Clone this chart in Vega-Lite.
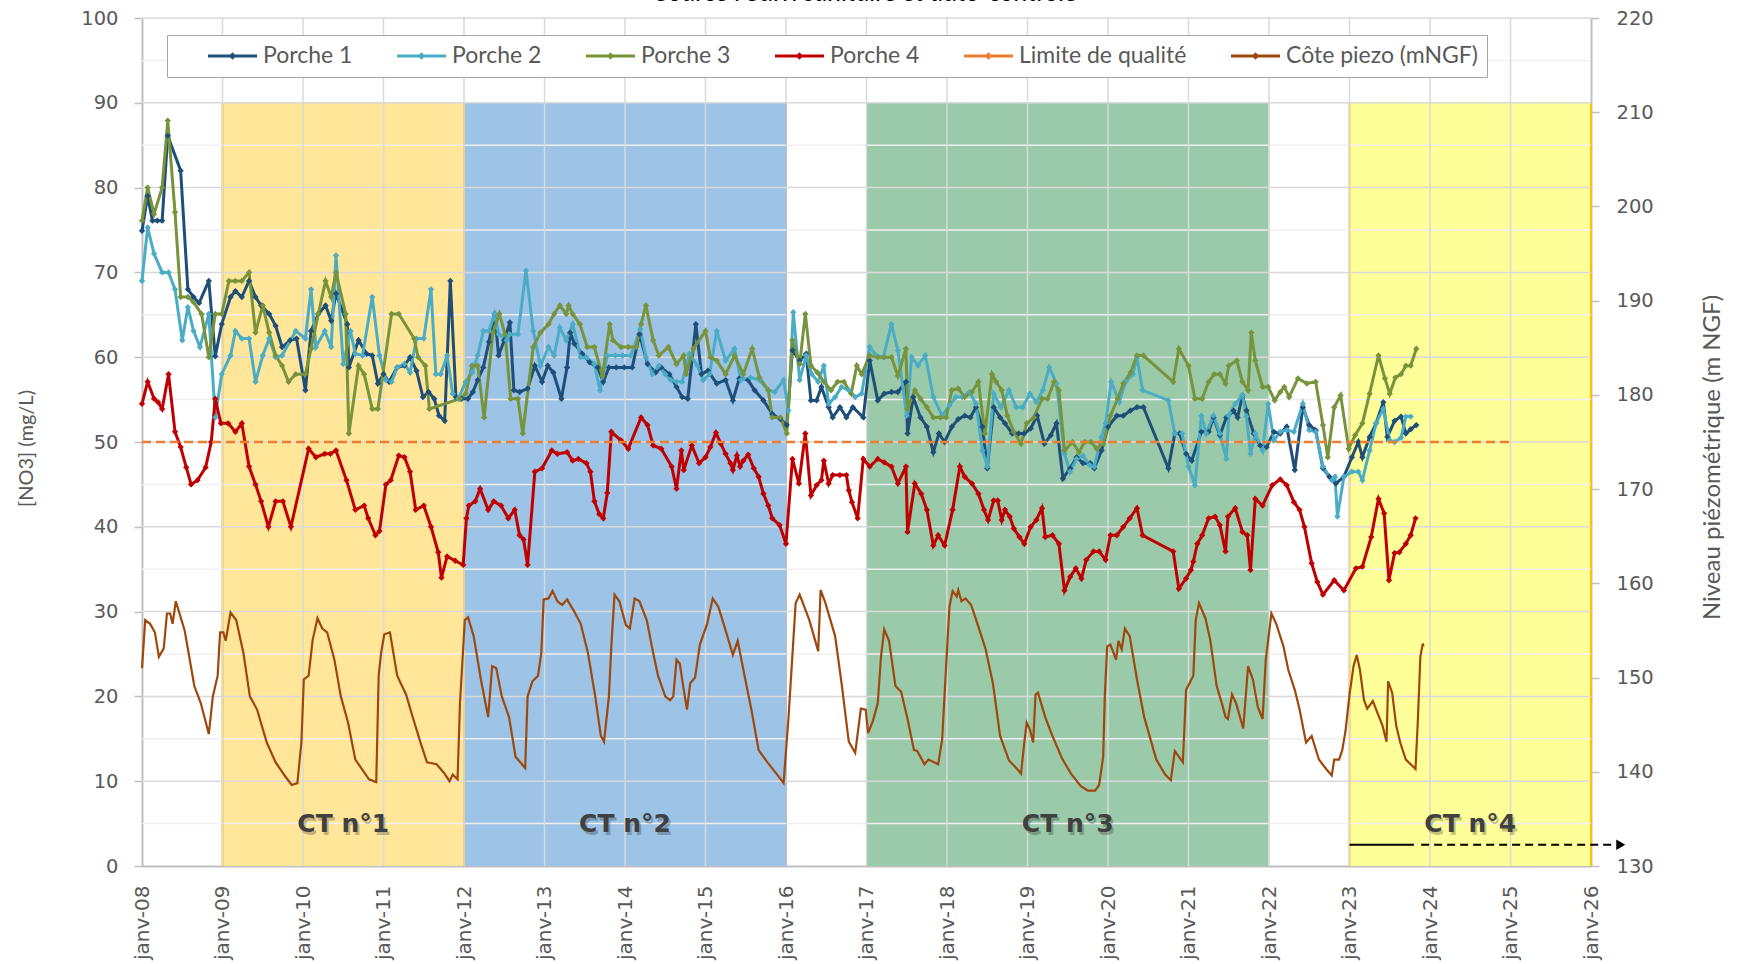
{
"$schema":"https://vega.github.io/schema/vega-lite/v6.json",
"width":1449,"height":848,
"autosize":{"type":"none"},
"padding":{"left":142,"top":18,"right":150,"bottom":98},
"background":"#ffffff",
"title":{"text":"Source : Suivi sanitaire et auto-contrôle","font":"Lato","fontSize":26,"fontStyle":"italic","fontWeight":"normal","color":"#000000","anchor":"middle","baseline":"alphabetic","offset":-19},
"config":{"view":{"stroke":null},"axis":{"labelFont":"DejaVu Sans","labelFontSize":19.5,"labelColor":"#595959","domainColor":"#BFBFBF","domainWidth":2,"tickColor":"#BFBFBF","tickWidth":1.5,"grid":false,"titleFont":"Lato","titleFontSize":20,"titleColor":"#595959","titleFontWeight":"normal"}},
"datasets":{
"ct":[{"nom":"CT n°1","an":2009,"fin":2012,"mil":2010.5},{"nom":"CT n°2","an":2012,"fin":2016,"mil":2014},{"nom":"CT n°3","an":2017,"fin":2022,"mil":2019.5},{"nom":"CT n°4","an":2023,"fin":2026,"mil":2024.5}],
"bords":[{"nom":"CT n°1","an":2009},{"nom":"CT n°1","an":2012},{"nom":"CT n°2","an":2016},{"nom":"CT n°4","an":2023},{"nom":"CT n°4","an":2026}],
"g10":[{"v":10},{"v":20},{"v":30},{"v":40},{"v":50},{"v":60},{"v":70},{"v":80},{"v":90},{"v":100}],
"g5":[{"v":5},{"v":15},{"v":25},{"v":35},{"v":45},{"v":55},{"v":65},{"v":75},{"v":85},{"v":95}],
"gx":[{"an":2009},{"an":2010},{"an":2011},{"an":2012},{"an":2013},{"an":2014},{"an":2015},{"an":2016},{"an":2017},{"an":2018},{"an":2019},{"an":2020},{"an":2021},{"an":2022},{"an":2023},{"an":2024},{"an":2025}],
"limite":[{"an":2008,"no3":50},{"an":2025,"no3":50}],
"fleche_plein":[{"an":2023.0,"no3":2.5},{"an":2023.8,"no3":2.5}],
"fleche_tiret":[{"an":2023.89,"no3":2.5},{"an":2026.3,"no3":2.5}],
"fleche_pointe":[{"an":2026.37,"no3":2.5}],
"nitrate":[
{"serie":"Porche 1","an":2008.00,"no3":74.9},{"serie":"Porche 1","an":2008.07,"no3":79.0},{"serie":"Porche 1","an":2008.13,"no3":76.1},{"serie":"Porche 1","an":2008.19,"no3":76.1},{"serie":"Porche 1","an":2008.25,"no3":76.1},{"serie":"Porche 1","an":2008.32,"no3":86.1},{"serie":"Porche 1","an":2008.48,"no3":82.0},{"serie":"Porche 1","an":2008.57,"no3":68.0},{"serie":"Porche 1","an":2008.64,"no3":67.1},{"serie":"Porche 1","an":2008.71,"no3":66.4},{"serie":"Porche 1","an":2008.83,"no3":69.0},{"serie":"Porche 1","an":2008.91,"no3":60.1},{"serie":"Porche 1","an":2008.99,"no3":63.9},
{"serie":"Porche 1","an":2009.10,"no3":67.1},{"serie":"Porche 1","an":2009.16,"no3":67.8},{"serie":"Porche 1","an":2009.24,"no3":67.1},{"serie":"Porche 1","an":2009.33,"no3":69.0},{"serie":"Porche 1","an":2009.41,"no3":67.1},{"serie":"Porche 1","an":2009.48,"no3":66.1},{"serie":"Porche 1","an":2009.58,"no3":65.1},{"serie":"Porche 1","an":2009.66,"no3":63.7},{"serie":"Porche 1","an":2009.74,"no3":61.2},{"serie":"Porche 1","an":2009.84,"no3":62.0},{"serie":"Porche 1","an":2009.92,"no3":62.2},
{"serie":"Porche 1","an":2010.03,"no3":56.1},{"serie":"Porche 1","an":2010.10,"no3":63.1},{"serie":"Porche 1","an":2010.19,"no3":65.1},{"serie":"Porche 1","an":2010.28,"no3":66.1},{"serie":"Porche 1","an":2010.35,"no3":64.3},{"serie":"Porche 1","an":2010.41,"no3":67.5},{"serie":"Porche 1","an":2010.55,"no3":63.9},{"serie":"Porche 1","an":2010.57,"no3":58.8},{"serie":"Porche 1","an":2010.69,"no3":62.0},{"serie":"Porche 1","an":2010.79,"no3":60.4},{"serie":"Porche 1","an":2010.86,"no3":60.2},{"serie":"Porche 1","an":2010.93,"no3":56.9},
{"serie":"Porche 1","an":2011.00,"no3":58.0},{"serie":"Porche 1","an":2011.07,"no3":57.1},{"serie":"Porche 1","an":2011.17,"no3":58.8},{"serie":"Porche 1","an":2011.26,"no3":59.0},{"serie":"Porche 1","an":2011.33,"no3":60.0},{"serie":"Porche 1","an":2011.41,"no3":58.4},{"serie":"Porche 1","an":2011.49,"no3":55.3},{"serie":"Porche 1","an":2011.56,"no3":55.9},{"serie":"Porche 1","an":2011.63,"no3":55.1},{"serie":"Porche 1","an":2011.69,"no3":53.1},{"serie":"Porche 1","an":2011.76,"no3":52.5},{"serie":"Porche 1","an":2011.83,"no3":69.0},{"serie":"Porche 1","an":2011.90,"no3":55.3},{"serie":"Porche 1","an":2011.97,"no3":55.1},
{"serie":"Porche 1","an":2012.05,"no3":55.1},{"serie":"Porche 1","an":2012.11,"no3":55.9},{"serie":"Porche 1","an":2012.17,"no3":57.3},{"serie":"Porche 1","an":2012.24,"no3":58.8},{"serie":"Porche 1","an":2012.31,"no3":61.8},{"serie":"Porche 1","an":2012.38,"no3":65.1},{"serie":"Porche 1","an":2012.43,"no3":60.2},{"serie":"Porche 1","an":2012.50,"no3":62.0},{"serie":"Porche 1","an":2012.57,"no3":64.1},{"serie":"Porche 1","an":2012.62,"no3":56.1},{"serie":"Porche 1","an":2012.69,"no3":55.9},{"serie":"Porche 1","an":2012.79,"no3":56.3},{"serie":"Porche 1","an":2012.88,"no3":59.0},{"serie":"Porche 1","an":2012.97,"no3":57.1},
{"serie":"Porche 1","an":2013.04,"no3":59.0},{"serie":"Porche 1","an":2013.11,"no3":58.2},{"serie":"Porche 1","an":2013.21,"no3":55.1},{"serie":"Porche 1","an":2013.28,"no3":58.8},{"serie":"Porche 1","an":2013.32,"no3":62.9},{"serie":"Porche 1","an":2013.37,"no3":61.6},{"serie":"Porche 1","an":2013.47,"no3":60.4},{"serie":"Porche 1","an":2013.56,"no3":59.4},{"serie":"Porche 1","an":2013.66,"no3":58.8},{"serie":"Porche 1","an":2013.73,"no3":57.1},{"serie":"Porche 1","an":2013.80,"no3":58.8},{"serie":"Porche 1","an":2013.89,"no3":58.8},{"serie":"Porche 1","an":2013.99,"no3":58.8},
{"serie":"Porche 1","an":2014.09,"no3":58.8},{"serie":"Porche 1","an":2014.18,"no3":62.7},{"serie":"Porche 1","an":2014.28,"no3":59.2},{"serie":"Porche 1","an":2014.38,"no3":58.2},{"serie":"Porche 1","an":2014.45,"no3":58.8},{"serie":"Porche 1","an":2014.55,"no3":58.0},{"serie":"Porche 1","an":2014.64,"no3":56.5},{"serie":"Porche 1","an":2014.71,"no3":55.3},{"serie":"Porche 1","an":2014.78,"no3":55.1},{"serie":"Porche 1","an":2014.88,"no3":63.9},{"serie":"Porche 1","an":2014.95,"no3":58.0},
{"serie":"Porche 1","an":2015.03,"no3":58.4},{"serie":"Porche 1","an":2015.14,"no3":56.9},{"serie":"Porche 1","an":2015.25,"no3":57.3},{"serie":"Porche 1","an":2015.34,"no3":54.9},{"serie":"Porche 1","an":2015.42,"no3":57.5},{"serie":"Porche 1","an":2015.53,"no3":57.3},{"serie":"Porche 1","an":2015.61,"no3":56.1},{"serie":"Porche 1","an":2015.72,"no3":54.9},{"serie":"Porche 1","an":2015.83,"no3":53.3},{"serie":"Porche 1","an":2015.93,"no3":52.7},{"serie":"Porche 1","an":2016.01,"no3":52.0},
{"serie":"Porche 1","an":2016.08,"no3":60.8},{"serie":"Porche 1","an":2016.17,"no3":59.6},{"serie":"Porche 1","an":2016.25,"no3":60.4},{"serie":"Porche 1","an":2016.31,"no3":54.9},{"serie":"Porche 1","an":2016.38,"no3":54.9},{"serie":"Porche 1","an":2016.44,"no3":56.5},{"serie":"Porche 1","an":2016.53,"no3":54.1},{"serie":"Porche 1","an":2016.58,"no3":52.9},{"serie":"Porche 1","an":2016.67,"no3":54.1},{"serie":"Porche 1","an":2016.75,"no3":52.9},{"serie":"Porche 1","an":2016.83,"no3":54.1},{"serie":"Porche 1","an":2016.96,"no3":52.9},
{"serie":"Porche 1","an":2017.04,"no3":59.6},{"serie":"Porche 1","an":2017.14,"no3":54.9},{"serie":"Porche 1","an":2017.22,"no3":55.7},{"serie":"Porche 1","an":2017.31,"no3":55.9},{"serie":"Porche 1","an":2017.39,"no3":55.9},{"serie":"Porche 1","an":2017.49,"no3":57.1},{"serie":"Porche 1","an":2017.51,"no3":51.0},{"serie":"Porche 1","an":2017.58,"no3":55.3},{"serie":"Porche 1","an":2017.67,"no3":52.9},{"serie":"Porche 1","an":2017.75,"no3":51.8},{"serie":"Porche 1","an":2017.83,"no3":48.8},{"serie":"Porche 1","an":2017.90,"no3":51.0},{"serie":"Porche 1","an":2017.97,"no3":50.0},
{"serie":"Porche 1","an":2018.06,"no3":51.8},{"serie":"Porche 1","an":2018.14,"no3":52.7},{"serie":"Porche 1","an":2018.22,"no3":53.1},{"serie":"Porche 1","an":2018.29,"no3":52.9},{"serie":"Porche 1","an":2018.36,"no3":54.1},{"serie":"Porche 1","an":2018.44,"no3":51.8},{"serie":"Porche 1","an":2018.50,"no3":46.9},{"serie":"Porche 1","an":2018.58,"no3":54.1},{"serie":"Porche 1","an":2018.66,"no3":52.9},{"serie":"Porche 1","an":2018.72,"no3":52.2},{"serie":"Porche 1","an":2018.81,"no3":51.0},{"serie":"Porche 1","an":2018.89,"no3":51.0},{"serie":"Porche 1","an":2018.96,"no3":51.0},
{"serie":"Porche 1","an":2019.04,"no3":51.6},{"serie":"Porche 1","an":2019.12,"no3":53.1},{"serie":"Porche 1","an":2019.21,"no3":49.8},{"serie":"Porche 1","an":2019.29,"no3":50.8},{"serie":"Porche 1","an":2019.36,"no3":52.2},{"serie":"Porche 1","an":2019.44,"no3":45.7},{"serie":"Porche 1","an":2019.53,"no3":46.9},{"serie":"Porche 1","an":2019.61,"no3":48.2},{"serie":"Porche 1","an":2019.69,"no3":47.5},{"serie":"Porche 1","an":2019.78,"no3":47.5},{"serie":"Porche 1","an":2019.83,"no3":46.9},{"serie":"Porche 1","an":2019.92,"no3":49.0},
{"serie":"Porche 1","an":2020.00,"no3":51.8},{"serie":"Porche 1","an":2020.11,"no3":53.1},{"serie":"Porche 1","an":2020.19,"no3":53.1},{"serie":"Porche 1","an":2020.28,"no3":53.7},{"serie":"Porche 1","an":2020.36,"no3":54.1},{"serie":"Porche 1","an":2020.44,"no3":54.1},{"serie":"Porche 1","an":2020.75,"no3":46.9},{"serie":"Porche 1","an":2020.83,"no3":51.0},{"serie":"Porche 1","an":2020.89,"no3":51.0},{"serie":"Porche 1","an":2020.97,"no3":48.6},
{"serie":"Porche 1","an":2021.04,"no3":47.8},{"serie":"Porche 1","an":2021.16,"no3":51.2},{"serie":"Porche 1","an":2021.25,"no3":51.2},{"serie":"Porche 1","an":2021.31,"no3":52.9},{"serie":"Porche 1","an":2021.39,"no3":50.8},{"serie":"Porche 1","an":2021.47,"no3":52.9},{"serie":"Porche 1","an":2021.56,"no3":53.7},{"serie":"Porche 1","an":2021.61,"no3":52.9},{"serie":"Porche 1","an":2021.67,"no3":55.5},{"serie":"Porche 1","an":2021.72,"no3":53.7},{"serie":"Porche 1","an":2021.81,"no3":51.0},{"serie":"Porche 1","an":2021.89,"no3":49.6},{"serie":"Porche 1","an":2021.97,"no3":49.4},
{"serie":"Porche 1","an":2022.06,"no3":51.2},{"serie":"Porche 1","an":2022.14,"no3":51.0},{"serie":"Porche 1","an":2022.22,"no3":51.8},{"serie":"Porche 1","an":2022.32,"no3":46.7},{"serie":"Porche 1","an":2022.42,"no3":54.1},{"serie":"Porche 1","an":2022.50,"no3":52.0},{"serie":"Porche 1","an":2022.58,"no3":51.4},{"serie":"Porche 1","an":2022.67,"no3":46.9},{"serie":"Porche 1","an":2022.75,"no3":45.9},{"serie":"Porche 1","an":2022.83,"no3":45.1},{"serie":"Porche 1","an":2022.93,"no3":45.9},
{"serie":"Porche 1","an":2023.03,"no3":48.2},{"serie":"Porche 1","an":2023.11,"no3":50.0},{"serie":"Porche 1","an":2023.16,"no3":48.2},{"serie":"Porche 1","an":2023.25,"no3":50.6},{"serie":"Porche 1","an":2023.33,"no3":52.2},{"serie":"Porche 1","an":2023.42,"no3":54.7},{"serie":"Porche 1","an":2023.47,"no3":50.6},{"serie":"Porche 1","an":2023.56,"no3":52.5},{"serie":"Porche 1","an":2023.64,"no3":53.0},{"serie":"Porche 1","an":2023.70,"no3":51.0},{"serie":"Porche 1","an":2023.76,"no3":51.5},{"serie":"Porche 1","an":2023.83,"no3":52.0},
{"serie":"Porche 2","an":2008.00,"no3":69.0},{"serie":"Porche 2","an":2008.07,"no3":75.3},{"serie":"Porche 2","an":2008.15,"no3":72.2},{"serie":"Porche 2","an":2008.25,"no3":70.0},{"serie":"Porche 2","an":2008.33,"no3":70.0},{"serie":"Porche 2","an":2008.41,"no3":68.0},{"serie":"Porche 2","an":2008.50,"no3":62.0},{"serie":"Porche 2","an":2008.57,"no3":65.9},{"serie":"Porche 2","an":2008.64,"no3":63.1},{"serie":"Porche 2","an":2008.72,"no3":61.2},{"serie":"Porche 2","an":2008.83,"no3":65.1},{"serie":"Porche 2","an":2008.91,"no3":52.9},{"serie":"Porche 2","an":2008.99,"no3":58.0},
{"serie":"Porche 2","an":2009.10,"no3":60.2},{"serie":"Porche 2","an":2009.16,"no3":63.1},{"serie":"Porche 2","an":2009.24,"no3":62.2},{"serie":"Porche 2","an":2009.33,"no3":62.2},{"serie":"Porche 2","an":2009.41,"no3":57.1},{"serie":"Porche 2","an":2009.50,"no3":60.2},{"serie":"Porche 2","an":2009.58,"no3":62.2},{"serie":"Porche 2","an":2009.66,"no3":60.0},{"serie":"Porche 2","an":2009.74,"no3":60.2},{"serie":"Porche 2","an":2009.91,"no3":63.1},
{"serie":"Porche 2","an":2010.03,"no3":62.2},{"serie":"Porche 2","an":2010.10,"no3":68.0},{"serie":"Porche 2","an":2010.16,"no3":61.2},{"serie":"Porche 2","an":2010.27,"no3":63.1},{"serie":"Porche 2","an":2010.35,"no3":61.2},{"serie":"Porche 2","an":2010.41,"no3":72.0},{"serie":"Porche 2","an":2010.50,"no3":59.2},{"serie":"Porche 2","an":2010.59,"no3":63.1},{"serie":"Porche 2","an":2010.65,"no3":60.4},{"serie":"Porche 2","an":2010.74,"no3":60.2},{"serie":"Porche 2","an":2010.86,"no3":67.1},{"serie":"Porche 2","an":2010.95,"no3":60.2},
{"serie":"Porche 2","an":2011.03,"no3":57.3},{"serie":"Porche 2","an":2011.10,"no3":57.1},{"serie":"Porche 2","an":2011.17,"no3":58.8},{"serie":"Porche 2","an":2011.26,"no3":59.2},{"serie":"Porche 2","an":2011.33,"no3":58.2},{"serie":"Porche 2","an":2011.41,"no3":62.2},{"serie":"Porche 2","an":2011.50,"no3":62.2},{"serie":"Porche 2","an":2011.59,"no3":68.0},{"serie":"Porche 2","an":2011.65,"no3":58.0},{"serie":"Porche 2","an":2011.71,"no3":58.0},{"serie":"Porche 2","an":2011.79,"no3":60.2},{"serie":"Porche 2","an":2011.86,"no3":55.7},{"serie":"Porche 2","an":2011.93,"no3":55.1},
{"serie":"Porche 2","an":2012.02,"no3":57.1},{"serie":"Porche 2","an":2012.10,"no3":58.2},{"serie":"Porche 2","an":2012.17,"no3":60.2},{"serie":"Porche 2","an":2012.24,"no3":63.1},{"serie":"Porche 2","an":2012.31,"no3":63.1},{"serie":"Porche 2","an":2012.38,"no3":65.1},{"serie":"Porche 2","an":2012.43,"no3":62.7},{"serie":"Porche 2","an":2012.53,"no3":62.0},{"serie":"Porche 2","an":2012.57,"no3":62.7},{"serie":"Porche 2","an":2012.67,"no3":62.7},{"serie":"Porche 2","an":2012.77,"no3":70.2},{"serie":"Porche 2","an":2012.86,"no3":63.1},{"serie":"Porche 2","an":2012.95,"no3":59.0},
{"serie":"Porche 2","an":2013.05,"no3":61.2},{"serie":"Porche 2","an":2013.12,"no3":60.2},{"serie":"Porche 2","an":2013.19,"no3":63.5},{"serie":"Porche 2","an":2013.27,"no3":62.0},{"serie":"Porche 2","an":2013.35,"no3":63.9},{"serie":"Porche 2","an":2013.45,"no3":60.0},{"serie":"Porche 2","an":2013.52,"no3":60.0},{"serie":"Porche 2","an":2013.62,"no3":59.2},{"serie":"Porche 2","an":2013.69,"no3":56.1},{"serie":"Porche 2","an":2013.78,"no3":60.2},{"serie":"Porche 2","an":2013.88,"no3":60.2},{"serie":"Porche 2","an":2013.97,"no3":60.2},
{"serie":"Porche 2","an":2014.07,"no3":60.2},{"serie":"Porche 2","an":2014.19,"no3":63.3},{"serie":"Porche 2","an":2014.26,"no3":60.0},{"serie":"Porche 2","an":2014.34,"no3":58.0},{"serie":"Porche 2","an":2014.42,"no3":59.0},{"serie":"Porche 2","an":2014.50,"no3":58.0},{"serie":"Porche 2","an":2014.57,"no3":57.3},{"serie":"Porche 2","an":2014.64,"no3":57.1},{"serie":"Porche 2","an":2014.71,"no3":57.1},{"serie":"Porche 2","an":2014.80,"no3":60.4},{"serie":"Porche 2","an":2014.90,"no3":59.0},{"serie":"Porche 2","an":2014.97,"no3":57.3},
{"serie":"Porche 2","an":2015.05,"no3":58.0},{"serie":"Porche 2","an":2015.14,"no3":63.1},{"serie":"Porche 2","an":2015.25,"no3":59.6},{"serie":"Porche 2","an":2015.36,"no3":61.0},{"serie":"Porche 2","an":2015.44,"no3":57.3},{"serie":"Porche 2","an":2015.56,"no3":57.6},{"serie":"Porche 2","an":2015.67,"no3":57.3},{"serie":"Porche 2","an":2015.78,"no3":56.1},{"serie":"Porche 2","an":2015.86,"no3":55.9},{"serie":"Porche 2","an":2015.97,"no3":57.3},
{"serie":"Porche 2","an":2016.03,"no3":53.7},{"serie":"Porche 2","an":2016.09,"no3":65.3},{"serie":"Porche 2","an":2016.17,"no3":57.3},{"serie":"Porche 2","an":2016.25,"no3":60.2},{"serie":"Porche 2","an":2016.32,"no3":58.0},{"serie":"Porche 2","an":2016.40,"no3":57.1},{"serie":"Porche 2","an":2016.47,"no3":59.0},{"serie":"Porche 2","an":2016.53,"no3":54.5},{"serie":"Porche 2","an":2016.61,"no3":55.3},{"serie":"Porche 2","an":2016.69,"no3":56.5},{"serie":"Porche 2","an":2016.78,"no3":56.1},{"serie":"Porche 2","an":2016.86,"no3":55.3},{"serie":"Porche 2","an":2016.94,"no3":55.7},
{"serie":"Porche 2","an":2017.04,"no3":61.2},{"serie":"Porche 2","an":2017.12,"no3":60.2},{"serie":"Porche 2","an":2017.21,"no3":60.0},{"serie":"Porche 2","an":2017.31,"no3":63.9},{"serie":"Porche 2","an":2017.39,"no3":60.8},{"serie":"Porche 2","an":2017.50,"no3":53.1},{"serie":"Porche 2","an":2017.56,"no3":60.0},{"serie":"Porche 2","an":2017.64,"no3":59.0},{"serie":"Porche 2","an":2017.73,"no3":60.2},{"serie":"Porche 2","an":2017.83,"no3":55.3},{"serie":"Porche 2","an":2017.94,"no3":53.1},
{"serie":"Porche 2","an":2018.03,"no3":54.3},{"serie":"Porche 2","an":2018.11,"no3":55.3},{"serie":"Porche 2","an":2018.19,"no3":55.3},{"serie":"Porche 2","an":2018.28,"no3":55.9},{"serie":"Porche 2","an":2018.36,"no3":54.5},{"serie":"Porche 2","an":2018.44,"no3":49.0},{"serie":"Porche 2","an":2018.50,"no3":47.1},{"serie":"Porche 2","an":2018.58,"no3":55.7},{"serie":"Porche 2","an":2018.67,"no3":54.1},{"serie":"Porche 2","an":2018.77,"no3":56.1},{"serie":"Porche 2","an":2018.86,"no3":54.1},{"serie":"Porche 2","an":2018.94,"no3":54.1},
{"serie":"Porche 2","an":2019.03,"no3":55.7},{"serie":"Porche 2","an":2019.11,"no3":54.7},{"serie":"Porche 2","an":2019.19,"no3":56.1},{"serie":"Porche 2","an":2019.27,"no3":58.8},{"serie":"Porche 2","an":2019.36,"no3":56.9},{"serie":"Porche 2","an":2019.46,"no3":48.6},{"serie":"Porche 2","an":2019.53,"no3":46.5},{"serie":"Porche 2","an":2019.61,"no3":48.0},{"serie":"Porche 2","an":2019.69,"no3":48.4},{"serie":"Porche 2","an":2019.77,"no3":47.3},{"serie":"Porche 2","an":2019.83,"no3":47.1},{"serie":"Porche 2","an":2019.92,"no3":50.6},{"serie":"Porche 2","an":2019.97,"no3":52.2},
{"serie":"Porche 2","an":2020.04,"no3":57.1},{"serie":"Porche 2","an":2020.14,"no3":54.7},{"serie":"Porche 2","an":2020.22,"no3":57.1},{"serie":"Porche 2","an":2020.31,"no3":58.0},{"serie":"Porche 2","an":2020.36,"no3":60.0},{"serie":"Porche 2","an":2020.43,"no3":56.1},{"serie":"Porche 2","an":2020.75,"no3":54.9},{"serie":"Porche 2","an":2020.83,"no3":51.0},{"serie":"Porche 2","an":2020.92,"no3":51.0},
{"serie":"Porche 2","an":2021.00,"no3":47.1},{"serie":"Porche 2","an":2021.08,"no3":44.9},{"serie":"Porche 2","an":2021.16,"no3":53.1},{"serie":"Porche 2","an":2021.22,"no3":51.0},{"serie":"Porche 2","an":2021.31,"no3":53.1},{"serie":"Porche 2","an":2021.39,"no3":51.0},{"serie":"Porche 2","an":2021.47,"no3":48.0},{"serie":"Porche 2","an":2021.50,"no3":53.1},{"serie":"Porche 2","an":2021.58,"no3":54.5},{"serie":"Porche 2","an":2021.67,"no3":55.5},{"serie":"Porche 2","an":2021.72,"no3":53.0},{"serie":"Porche 2","an":2021.77,"no3":48.6},{"serie":"Porche 2","an":2021.83,"no3":51.0},{"serie":"Porche 2","an":2021.92,"no3":49.0},{"serie":"Porche 2","an":2021.99,"no3":54.5},
{"serie":"Porche 2","an":2022.06,"no3":50.2},{"serie":"Porche 2","an":2022.14,"no3":51.2},{"serie":"Porche 2","an":2022.22,"no3":51.4},{"serie":"Porche 2","an":2022.31,"no3":51.2},{"serie":"Porche 2","an":2022.42,"no3":54.5},{"serie":"Porche 2","an":2022.50,"no3":51.4},{"serie":"Porche 2","an":2022.58,"no3":51.2},{"serie":"Porche 2","an":2022.67,"no3":47.1},{"serie":"Porche 2","an":2022.78,"no3":45.5},{"serie":"Porche 2","an":2022.82,"no3":45.9},{"serie":"Porche 2","an":2022.85,"no3":41.2},{"serie":"Porche 2","an":2022.93,"no3":45.9},
{"serie":"Porche 2","an":2023.03,"no3":46.5},{"serie":"Porche 2","an":2023.11,"no3":46.5},{"serie":"Porche 2","an":2023.16,"no3":45.5},{"serie":"Porche 2","an":2023.25,"no3":49.0},{"serie":"Porche 2","an":2023.33,"no3":52.2},{"serie":"Porche 2","an":2023.42,"no3":53.9},{"serie":"Porche 2","an":2023.50,"no3":50.2},{"serie":"Porche 2","an":2023.56,"no3":50.0},{"serie":"Porche 2","an":2023.64,"no3":50.5},{"serie":"Porche 2","an":2023.70,"no3":53.0},{"serie":"Porche 2","an":2023.76,"no3":53.0},
{"serie":"Porche 3","an":2008.00,"no3":76.1},{"serie":"Porche 3","an":2008.07,"no3":80.0},{"serie":"Porche 3","an":2008.15,"no3":76.9},{"serie":"Porche 3","an":2008.25,"no3":80.0},{"serie":"Porche 3","an":2008.32,"no3":87.9},{"serie":"Porche 3","an":2008.41,"no3":77.1},{"serie":"Porche 3","an":2008.48,"no3":67.1},{"serie":"Porche 3","an":2008.57,"no3":67.1},{"serie":"Porche 3","an":2008.64,"no3":66.5},{"serie":"Porche 3","an":2008.74,"no3":65.1},{"serie":"Porche 3","an":2008.83,"no3":60.0},{"serie":"Porche 3","an":2008.91,"no3":65.1},{"serie":"Porche 3","an":2008.99,"no3":65.1},
{"serie":"Porche 3","an":2009.08,"no3":69.0},{"serie":"Porche 3","an":2009.16,"no3":69.0},{"serie":"Porche 3","an":2009.24,"no3":69.0},{"serie":"Porche 3","an":2009.33,"no3":70.0},{"serie":"Porche 3","an":2009.41,"no3":62.9},{"serie":"Porche 3","an":2009.50,"no3":66.1},{"serie":"Porche 3","an":2009.58,"no3":62.9},{"serie":"Porche 3","an":2009.66,"no3":60.2},{"serie":"Porche 3","an":2009.74,"no3":59.0},{"serie":"Porche 3","an":2009.82,"no3":57.1},{"serie":"Porche 3","an":2009.91,"no3":58.0},
{"serie":"Porche 3","an":2010.03,"no3":58.0},{"serie":"Porche 3","an":2010.10,"no3":61.0},{"serie":"Porche 3","an":2010.19,"no3":65.1},{"serie":"Porche 3","an":2010.28,"no3":69.0},{"serie":"Porche 3","an":2010.35,"no3":67.1},{"serie":"Porche 3","an":2010.41,"no3":70.0},{"serie":"Porche 3","an":2010.53,"no3":65.1},{"serie":"Porche 3","an":2010.57,"no3":51.0},{"serie":"Porche 3","an":2010.69,"no3":59.0},{"serie":"Porche 3","an":2010.76,"no3":58.0},{"serie":"Porche 3","an":2010.86,"no3":53.9},{"serie":"Porche 3","an":2010.93,"no3":53.9},
{"serie":"Porche 3","an":2011.10,"no3":65.1},{"serie":"Porche 3","an":2011.19,"no3":65.1},{"serie":"Porche 3","an":2011.38,"no3":62.2},{"serie":"Porche 3","an":2011.43,"no3":60.0},{"serie":"Porche 3","an":2011.52,"no3":59.0},{"serie":"Porche 3","an":2011.57,"no3":53.9},{"serie":"Porche 3","an":2011.95,"no3":55.1},
{"serie":"Porche 3","an":2012.02,"no3":55.7},{"serie":"Porche 3","an":2012.10,"no3":59.0},{"serie":"Porche 3","an":2012.17,"no3":59.0},{"serie":"Porche 3","an":2012.25,"no3":52.9},{"serie":"Porche 3","an":2012.36,"no3":62.9},{"serie":"Porche 3","an":2012.44,"no3":65.1},{"serie":"Porche 3","an":2012.51,"no3":62.7},{"serie":"Porche 3","an":2012.58,"no3":55.1},{"serie":"Porche 3","an":2012.67,"no3":55.1},{"serie":"Porche 3","an":2012.73,"no3":51.0},{"serie":"Porche 3","an":2012.86,"no3":61.2},{"serie":"Porche 3","an":2012.95,"no3":62.9},
{"serie":"Porche 3","an":2013.05,"no3":63.9},{"serie":"Porche 3","an":2013.12,"no3":65.1},{"serie":"Porche 3","an":2013.19,"no3":66.1},{"serie":"Porche 3","an":2013.27,"no3":65.1},{"serie":"Porche 3","an":2013.30,"no3":66.1},{"serie":"Porche 3","an":2013.35,"no3":65.1},{"serie":"Porche 3","an":2013.44,"no3":63.9},{"serie":"Porche 3","an":2013.53,"no3":61.2},{"serie":"Porche 3","an":2013.62,"no3":61.2},{"serie":"Porche 3","an":2013.72,"no3":57.8},{"serie":"Porche 3","an":2013.81,"no3":63.9},{"serie":"Porche 3","an":2013.85,"no3":62.0},{"serie":"Porche 3","an":2013.95,"no3":61.2},
{"serie":"Porche 3","an":2014.04,"no3":61.2},{"serie":"Porche 3","an":2014.14,"no3":61.2},{"serie":"Porche 3","an":2014.20,"no3":63.9},{"serie":"Porche 3","an":2014.26,"no3":66.1},{"serie":"Porche 3","an":2014.35,"no3":62.0},{"serie":"Porche 3","an":2014.42,"no3":60.2},{"serie":"Porche 3","an":2014.54,"no3":61.2},{"serie":"Porche 3","an":2014.64,"no3":59.2},{"serie":"Porche 3","an":2014.73,"no3":60.2},{"serie":"Porche 3","an":2014.76,"no3":58.0},{"serie":"Porche 3","an":2014.85,"no3":61.0},
{"serie":"Porche 3","an":2015.00,"no3":63.1},{"serie":"Porche 3","an":2015.06,"no3":60.0},{"serie":"Porche 3","an":2015.14,"no3":59.6},{"serie":"Porche 3","an":2015.25,"no3":58.0},{"serie":"Porche 3","an":2015.36,"no3":60.2},{"serie":"Porche 3","an":2015.47,"no3":58.0},{"serie":"Porche 3","an":2015.58,"no3":61.0},{"serie":"Porche 3","an":2015.67,"no3":57.6},{"serie":"Porche 3","an":2015.78,"no3":56.1},{"serie":"Porche 3","an":2015.83,"no3":52.9},{"serie":"Porche 3","an":2015.93,"no3":52.9},
{"serie":"Porche 3","an":2016.01,"no3":51.0},{"serie":"Porche 3","an":2016.08,"no3":62.0},{"serie":"Porche 3","an":2016.17,"no3":59.2},{"serie":"Porche 3","an":2016.24,"no3":65.1},{"serie":"Porche 3","an":2016.31,"no3":59.0},{"serie":"Porche 3","an":2016.39,"no3":58.2},{"serie":"Porche 3","an":2016.47,"no3":57.1},{"serie":"Porche 3","an":2016.56,"no3":56.1},{"serie":"Porche 3","an":2016.64,"no3":57.1},{"serie":"Porche 3","an":2016.72,"no3":57.1},{"serie":"Porche 3","an":2016.81,"no3":55.7},{"serie":"Porche 3","an":2016.88,"no3":59.0},{"serie":"Porche 3","an":2016.94,"no3":58.0},
{"serie":"Porche 3","an":2017.04,"no3":60.2},{"serie":"Porche 3","an":2017.14,"no3":60.0},{"serie":"Porche 3","an":2017.22,"no3":60.0},{"serie":"Porche 3","an":2017.31,"no3":60.0},{"serie":"Porche 3","an":2017.39,"no3":57.8},{"serie":"Porche 3","an":2017.49,"no3":61.0},{"serie":"Porche 3","an":2017.51,"no3":53.9},{"serie":"Porche 3","an":2017.60,"no3":56.1},{"serie":"Porche 3","an":2017.67,"no3":55.1},{"serie":"Porche 3","an":2017.75,"no3":54.1},{"serie":"Porche 3","an":2017.83,"no3":52.9},{"serie":"Porche 3","an":2017.92,"no3":52.9},{"serie":"Porche 3","an":2017.99,"no3":52.9},
{"serie":"Porche 3","an":2018.06,"no3":56.1},{"serie":"Porche 3","an":2018.14,"no3":56.3},{"serie":"Porche 3","an":2018.22,"no3":55.3},{"serie":"Porche 3","an":2018.31,"no3":55.9},{"serie":"Porche 3","an":2018.39,"no3":57.1},{"serie":"Porche 3","an":2018.47,"no3":51.0},{"serie":"Porche 3","an":2018.56,"no3":58.0},{"serie":"Porche 3","an":2018.61,"no3":57.1},{"serie":"Porche 3","an":2018.68,"no3":56.1},{"serie":"Porche 3","an":2018.75,"no3":53.1},{"serie":"Porche 3","an":2018.83,"no3":51.2},{"serie":"Porche 3","an":2018.92,"no3":49.8},{"serie":"Porche 3","an":2018.99,"no3":52.2},
{"serie":"Porche 3","an":2019.08,"no3":52.9},{"serie":"Porche 3","an":2019.18,"no3":55.1},{"serie":"Porche 3","an":2019.25,"no3":55.1},{"serie":"Porche 3","an":2019.33,"no3":57.1},{"serie":"Porche 3","an":2019.39,"no3":56.1},{"serie":"Porche 3","an":2019.46,"no3":49.0},{"serie":"Porche 3","an":2019.56,"no3":50.0},{"serie":"Porche 3","an":2019.64,"no3":48.8},{"serie":"Porche 3","an":2019.71,"no3":50.0},{"serie":"Porche 3","an":2019.79,"no3":50.0},{"serie":"Porche 3","an":2019.86,"no3":49.2},{"serie":"Porche 3","an":2019.94,"no3":49.8},
{"serie":"Porche 3","an":2020.03,"no3":53.1},{"serie":"Porche 3","an":2020.12,"no3":55.1},{"serie":"Porche 3","an":2020.19,"no3":56.9},{"serie":"Porche 3","an":2020.28,"no3":58.2},{"serie":"Porche 3","an":2020.36,"no3":60.2},{"serie":"Porche 3","an":2020.44,"no3":60.2},{"serie":"Porche 3","an":2020.81,"no3":57.1},{"serie":"Porche 3","an":2020.88,"no3":61.0},
{"serie":"Porche 3","an":2021.00,"no3":59.0},{"serie":"Porche 3","an":2021.08,"no3":55.1},{"serie":"Porche 3","an":2021.17,"no3":55.1},{"serie":"Porche 3","an":2021.25,"no3":57.1},{"serie":"Porche 3","an":2021.32,"no3":58.0},{"serie":"Porche 3","an":2021.39,"no3":58.0},{"serie":"Porche 3","an":2021.46,"no3":56.9},{"serie":"Porche 3","an":2021.50,"no3":59.0},{"serie":"Porche 3","an":2021.60,"no3":59.6},{"serie":"Porche 3","an":2021.67,"no3":57.1},{"serie":"Porche 3","an":2021.74,"no3":56.1},{"serie":"Porche 3","an":2021.78,"no3":62.9},{"serie":"Porche 3","an":2021.83,"no3":59.6},{"serie":"Porche 3","an":2021.92,"no3":56.5},{"serie":"Porche 3","an":2021.99,"no3":56.5},
{"serie":"Porche 3","an":2022.07,"no3":54.9},{"serie":"Porche 3","an":2022.14,"no3":55.9},{"serie":"Porche 3","an":2022.19,"no3":56.5},{"serie":"Porche 3","an":2022.25,"no3":55.3},{"serie":"Porche 3","an":2022.36,"no3":57.5},{"serie":"Porche 3","an":2022.47,"no3":56.9},{"serie":"Porche 3","an":2022.58,"no3":57.1},{"serie":"Porche 3","an":2022.67,"no3":52.0},{"serie":"Porche 3","an":2022.73,"no3":48.2},{"serie":"Porche 3","an":2022.81,"no3":54.1},{"serie":"Porche 3","an":2022.89,"no3":55.5},{"serie":"Porche 3","an":2022.99,"no3":49.2},
{"serie":"Porche 3","an":2023.07,"no3":50.8},{"serie":"Porche 3","an":2023.16,"no3":52.2},{"serie":"Porche 3","an":2023.25,"no3":55.7},{"serie":"Porche 3","an":2023.36,"no3":60.2},{"serie":"Porche 3","an":2023.44,"no3":57.5},{"serie":"Porche 3","an":2023.50,"no3":55.7},{"serie":"Porche 3","an":2023.57,"no3":57.6},{"serie":"Porche 3","an":2023.64,"no3":58.0},{"serie":"Porche 3","an":2023.70,"no3":59.0},{"serie":"Porche 3","an":2023.76,"no3":59.0},{"serie":"Porche 3","an":2023.83,"no3":61.0},
{"serie":"Porche 4","an":2008.00,"no3":54.5},{"serie":"Porche 4","an":2008.07,"no3":57.1},{"serie":"Porche 4","an":2008.15,"no3":55.1},{"serie":"Porche 4","an":2008.20,"no3":54.7},{"serie":"Porche 4","an":2008.25,"no3":53.9},{"serie":"Porche 4","an":2008.33,"no3":58.0},{"serie":"Porche 4","an":2008.41,"no3":51.2},{"serie":"Porche 4","an":2008.48,"no3":49.4},{"serie":"Porche 4","an":2008.55,"no3":47.0},{"serie":"Porche 4","an":2008.61,"no3":45.0},{"serie":"Porche 4","an":2008.69,"no3":45.5},{"serie":"Porche 4","an":2008.79,"no3":47.0},{"serie":"Porche 4","an":2008.86,"no3":50.0},{"serie":"Porche 4","an":2008.91,"no3":55.1},{"serie":"Porche 4","an":2008.98,"no3":52.2},
{"serie":"Porche 4","an":2009.07,"no3":52.2},{"serie":"Porche 4","an":2009.16,"no3":51.2},{"serie":"Porche 4","an":2009.24,"no3":52.2},{"serie":"Porche 4","an":2009.33,"no3":47.1},{"serie":"Porche 4","an":2009.41,"no3":45.0},{"serie":"Porche 4","an":2009.48,"no3":43.0},{"serie":"Porche 4","an":2009.57,"no3":40.0},{"serie":"Porche 4","an":2009.66,"no3":43.0},{"serie":"Porche 4","an":2009.75,"no3":43.0},{"serie":"Porche 4","an":2009.85,"no3":40.0},
{"serie":"Porche 4","an":2010.07,"no3":49.2},{"serie":"Porche 4","an":2010.16,"no3":48.2},{"serie":"Porche 4","an":2010.27,"no3":48.6},{"serie":"Porche 4","an":2010.34,"no3":48.6},{"serie":"Porche 4","an":2010.41,"no3":49.0},{"serie":"Porche 4","an":2010.54,"no3":45.5},{"serie":"Porche 4","an":2010.65,"no3":42.0},{"serie":"Porche 4","an":2010.76,"no3":42.5},{"serie":"Porche 4","an":2010.81,"no3":41.0},{"serie":"Porche 4","an":2010.90,"no3":39.0},{"serie":"Porche 4","an":2010.95,"no3":39.5},
{"serie":"Porche 4","an":2011.03,"no3":45.0},{"serie":"Porche 4","an":2011.09,"no3":45.5},{"serie":"Porche 4","an":2011.19,"no3":48.4},{"serie":"Porche 4","an":2011.26,"no3":48.2},{"serie":"Porche 4","an":2011.33,"no3":46.5},{"serie":"Porche 4","an":2011.40,"no3":42.0},{"serie":"Porche 4","an":2011.50,"no3":42.5},{"serie":"Porche 4","an":2011.59,"no3":40.0},{"serie":"Porche 4","an":2011.68,"no3":37.0},{"serie":"Porche 4","an":2011.72,"no3":34.0},{"serie":"Porche 4","an":2011.79,"no3":36.5},{"serie":"Porche 4","an":2011.89,"no3":36.0},{"serie":"Porche 4","an":2011.99,"no3":35.5},
{"serie":"Porche 4","an":2012.03,"no3":41.0},{"serie":"Porche 4","an":2012.06,"no3":42.5},{"serie":"Porche 4","an":2012.14,"no3":43.0},{"serie":"Porche 4","an":2012.20,"no3":44.5},{"serie":"Porche 4","an":2012.30,"no3":42.0},{"serie":"Porche 4","an":2012.37,"no3":43.0},{"serie":"Porche 4","an":2012.46,"no3":42.5},{"serie":"Porche 4","an":2012.55,"no3":41.0},{"serie":"Porche 4","an":2012.63,"no3":42.0},{"serie":"Porche 4","an":2012.69,"no3":39.0},{"serie":"Porche 4","an":2012.74,"no3":38.5},{"serie":"Porche 4","an":2012.79,"no3":35.5},{"serie":"Porche 4","an":2012.88,"no3":46.5},{"serie":"Porche 4","an":2012.97,"no3":46.9},
{"serie":"Porche 4","an":2013.09,"no3":49.0},{"serie":"Porche 4","an":2013.16,"no3":48.6},{"serie":"Porche 4","an":2013.28,"no3":48.8},{"serie":"Porche 4","an":2013.35,"no3":47.8},{"serie":"Porche 4","an":2013.42,"no3":48.0},{"serie":"Porche 4","an":2013.52,"no3":47.5},{"serie":"Porche 4","an":2013.57,"no3":46.5},{"serie":"Porche 4","an":2013.62,"no3":43.0},{"serie":"Porche 4","an":2013.68,"no3":41.5},{"serie":"Porche 4","an":2013.73,"no3":41.0},{"serie":"Porche 4","an":2013.78,"no3":44.0},{"serie":"Porche 4","an":2013.83,"no3":51.2},{"serie":"Porche 4","an":2013.95,"no3":50.2},
{"serie":"Porche 4","an":2014.04,"no3":49.2},{"serie":"Porche 4","an":2014.20,"no3":52.9},{"serie":"Porche 4","an":2014.28,"no3":52.0},{"serie":"Porche 4","an":2014.35,"no3":49.6},{"serie":"Porche 4","an":2014.45,"no3":49.2},{"serie":"Porche 4","an":2014.58,"no3":47.1},{"serie":"Porche 4","an":2014.64,"no3":44.5},{"serie":"Porche 4","an":2014.70,"no3":49.0},{"serie":"Porche 4","an":2014.73,"no3":46.7},{"serie":"Porche 4","an":2014.83,"no3":49.6},{"serie":"Porche 4","an":2014.92,"no3":47.5},
{"serie":"Porche 4","an":2015.00,"no3":48.2},{"serie":"Porche 4","an":2015.06,"no3":49.4},{"serie":"Porche 4","an":2015.13,"no3":51.1},{"serie":"Porche 4","an":2015.19,"no3":49.8},{"serie":"Porche 4","an":2015.25,"no3":48.6},{"serie":"Porche 4","an":2015.31,"no3":47.5},{"serie":"Porche 4","an":2015.34,"no3":46.7},{"serie":"Porche 4","an":2015.39,"no3":48.4},{"serie":"Porche 4","an":2015.43,"no3":47.1},{"serie":"Porche 4","an":2015.47,"no3":47.8},{"serie":"Porche 4","an":2015.53,"no3":48.5},{"serie":"Porche 4","an":2015.60,"no3":46.9},{"serie":"Porche 4","an":2015.66,"no3":45.9},{"serie":"Porche 4","an":2015.72,"no3":43.9},{"serie":"Porche 4","an":2015.78,"no3":42.5},{"serie":"Porche 4","an":2015.83,"no3":41.0},{"serie":"Porche 4","an":2015.92,"no3":40.2},
{"serie":"Porche 4","an":2016.00,"no3":38.0},{"serie":"Porche 4","an":2016.08,"no3":48.0},{"serie":"Porche 4","an":2016.16,"no3":45.1},{"serie":"Porche 4","an":2016.24,"no3":51.0},{"serie":"Porche 4","an":2016.31,"no3":43.7},{"serie":"Porche 4","an":2016.38,"no3":44.9},{"serie":"Porche 4","an":2016.44,"no3":45.5},{"serie":"Porche 4","an":2016.47,"no3":47.8},{"serie":"Porche 4","an":2016.53,"no3":45.1},{"serie":"Porche 4","an":2016.58,"no3":46.1},{"serie":"Porche 4","an":2016.67,"no3":46.1},{"serie":"Porche 4","an":2016.75,"no3":46.1},{"serie":"Porche 4","an":2016.78,"no3":44.3},{"serie":"Porche 4","an":2016.82,"no3":42.9},{"serie":"Porche 4","an":2016.89,"no3":41.0},{"serie":"Porche 4","an":2016.96,"no3":48.0},
{"serie":"Porche 4","an":2017.04,"no3":47.1},{"serie":"Porche 4","an":2017.14,"no3":48.0},{"serie":"Porche 4","an":2017.22,"no3":47.6},{"serie":"Porche 4","an":2017.31,"no3":47.1},{"serie":"Porche 4","an":2017.39,"no3":45.1},{"serie":"Porche 4","an":2017.49,"no3":47.1},{"serie":"Porche 4","an":2017.51,"no3":39.4},{"serie":"Porche 4","an":2017.60,"no3":45.1},{"serie":"Porche 4","an":2017.68,"no3":43.9},{"serie":"Porche 4","an":2017.75,"no3":42.0},{"serie":"Porche 4","an":2017.83,"no3":37.8},{"serie":"Porche 4","an":2017.89,"no3":39.0},{"serie":"Porche 4","an":2017.97,"no3":37.8},
{"serie":"Porche 4","an":2018.07,"no3":42.0},{"serie":"Porche 4","an":2018.16,"no3":47.1},{"serie":"Porche 4","an":2018.22,"no3":45.9},{"serie":"Porche 4","an":2018.31,"no3":45.1},{"serie":"Porche 4","an":2018.39,"no3":43.9},{"serie":"Porche 4","an":2018.46,"no3":42.0},{"serie":"Porche 4","an":2018.51,"no3":40.8},{"serie":"Porche 4","an":2018.58,"no3":43.1},{"serie":"Porche 4","an":2018.63,"no3":43.1},{"serie":"Porche 4","an":2018.68,"no3":40.8},{"serie":"Porche 4","an":2018.72,"no3":42.0},{"serie":"Porche 4","an":2018.78,"no3":41.2},{"serie":"Porche 4","an":2018.83,"no3":39.8},{"serie":"Porche 4","an":2018.90,"no3":38.8},{"serie":"Porche 4","an":2018.96,"no3":38.0},
{"serie":"Porche 4","an":2019.04,"no3":40.0},{"serie":"Porche 4","an":2019.11,"no3":40.8},{"serie":"Porche 4","an":2019.18,"no3":42.2},{"serie":"Porche 4","an":2019.22,"no3":38.8},{"serie":"Porche 4","an":2019.31,"no3":39.0},{"serie":"Porche 4","an":2019.39,"no3":38.0},{"serie":"Porche 4","an":2019.46,"no3":32.5},{"serie":"Porche 4","an":2019.53,"no3":34.1},{"serie":"Porche 4","an":2019.60,"no3":35.1},{"serie":"Porche 4","an":2019.67,"no3":33.9},{"serie":"Porche 4","an":2019.73,"no3":36.1},{"serie":"Porche 4","an":2019.82,"no3":37.1},{"serie":"Porche 4","an":2019.89,"no3":37.1},{"serie":"Porche 4","an":2019.97,"no3":36.1},
{"serie":"Porche 4","an":2020.03,"no3":39.0},{"serie":"Porche 4","an":2020.11,"no3":39.0},{"serie":"Porche 4","an":2020.19,"no3":40.0},{"serie":"Porche 4","an":2020.27,"no3":41.0},{"serie":"Porche 4","an":2020.36,"no3":42.2},{"serie":"Porche 4","an":2020.43,"no3":39.0},{"serie":"Porche 4","an":2020.81,"no3":37.1},{"serie":"Porche 4","an":2020.88,"no3":32.7},{"serie":"Porche 4","an":2020.97,"no3":33.9},
{"serie":"Porche 4","an":2021.03,"no3":34.9},{"serie":"Porche 4","an":2021.06,"no3":35.9},{"serie":"Porche 4","an":2021.11,"no3":38.0},{"serie":"Porche 4","an":2021.17,"no3":39.0},{"serie":"Porche 4","an":2021.25,"no3":41.0},{"serie":"Porche 4","an":2021.33,"no3":41.2},{"serie":"Porche 4","an":2021.39,"no3":40.2},{"serie":"Porche 4","an":2021.46,"no3":37.1},{"serie":"Porche 4","an":2021.49,"no3":41.2},{"serie":"Porche 4","an":2021.58,"no3":42.2},{"serie":"Porche 4","an":2021.67,"no3":39.4},{"serie":"Porche 4","an":2021.73,"no3":39.0},{"serie":"Porche 4","an":2021.77,"no3":34.9},{"serie":"Porche 4","an":2021.83,"no3":43.3},{"serie":"Porche 4","an":2021.92,"no3":42.5},
{"serie":"Porche 4","an":2022.04,"no3":44.9},{"serie":"Porche 4","an":2022.14,"no3":45.6},{"serie":"Porche 4","an":2022.22,"no3":44.9},{"serie":"Porche 4","an":2022.31,"no3":42.9},{"serie":"Porche 4","an":2022.38,"no3":42.0},{"serie":"Porche 4","an":2022.44,"no3":40.0},{"serie":"Porche 4","an":2022.53,"no3":35.7},{"serie":"Porche 4","an":2022.60,"no3":33.5},{"serie":"Porche 4","an":2022.67,"no3":32.0},{"serie":"Porche 4","an":2022.81,"no3":33.7},{"serie":"Porche 4","an":2022.93,"no3":32.5},
{"serie":"Porche 4","an":2023.08,"no3":35.1},{"serie":"Porche 4","an":2023.16,"no3":35.3},{"serie":"Porche 4","an":2023.27,"no3":38.8},{"serie":"Porche 4","an":2023.36,"no3":43.3},{"serie":"Porche 4","an":2023.43,"no3":41.6},{"serie":"Porche 4","an":2023.49,"no3":33.7},{"serie":"Porche 4","an":2023.56,"no3":36.9},{"serie":"Porche 4","an":2023.62,"no3":37.0},{"serie":"Porche 4","an":2023.70,"no3":38.0},{"serie":"Porche 4","an":2023.76,"no3":39.0},{"serie":"Porche 4","an":2023.82,"no3":41.0}
],
"piezo":[
{"an":2008.00,"niveau":151.0},{"an":2008.04,"niveau":156.1},{"an":2008.10,"niveau":155.7},{"an":2008.16,"niveau":154.8},{"an":2008.21,"niveau":152.2},{"an":2008.27,"niveau":153.1},{"an":2008.31,"niveau":156.8},{"an":2008.35,"niveau":156.8},{"an":2008.38,"niveau":155.7},{"an":2008.42,"niveau":158.1},{"an":2008.53,"niveau":155.0},{"an":2008.65,"niveau":149.1},{"an":2008.73,"niveau":147.3},{"an":2008.83,"niveau":144.0},{"an":2008.88,"niveau":148.0},{"an":2008.94,"niveau":150.2},{"an":2008.97,"niveau":154.8},
{"an":2009.01,"niveau":154.8},{"an":2009.04,"niveau":153.9},{"an":2009.10,"niveau":156.9},{"an":2009.17,"niveau":156.1},{"an":2009.26,"niveau":152.6},{"an":2009.34,"niveau":148.0},{"an":2009.43,"niveau":146.6},{"an":2009.55,"niveau":143.1},{"an":2009.66,"niveau":141.0},{"an":2009.78,"niveau":139.5},{"an":2009.86,"niveau":138.6},{"an":2009.93,"niveau":138.8},{"an":2009.98,"niveau":143.1},
{"an":2010.01,"niveau":149.8},{"an":2010.07,"niveau":150.2},{"an":2010.12,"niveau":154.0},{"an":2010.18,"niveau":156.3},{"an":2010.24,"niveau":155.2},{"an":2010.30,"niveau":154.8},{"an":2010.39,"niveau":151.9},{"an":2010.47,"niveau":148.0},{"an":2010.56,"niveau":145.2},{"an":2010.65,"niveau":141.3},{"an":2010.73,"niveau":140.3},{"an":2010.82,"niveau":139.2},{"an":2010.91,"niveau":138.9},{"an":2010.94,"niveau":150.2},{"an":2010.97,"niveau":152.6},
{"an":2011.01,"niveau":154.6},{"an":2011.08,"niveau":154.8},{"an":2011.17,"niveau":150.2},{"an":2011.28,"niveau":148.2},{"an":2011.37,"niveau":145.6},{"an":2011.46,"niveau":143.1},{"an":2011.54,"niveau":141.0},{"an":2011.66,"niveau":140.8},{"an":2011.75,"niveau":139.9},{"an":2011.82,"niveau":139.0},{"an":2011.86,"niveau":139.7},{"an":2011.92,"niveau":139.2},{"an":2011.95,"niveau":147.3},
{"an":2012.01,"niveau":156.1},{"an":2012.05,"niveau":156.4},{"an":2012.12,"niveau":154.4},{"an":2012.21,"niveau":149.8},{"an":2012.30,"niveau":145.8},{"an":2012.35,"niveau":151.2},{"an":2012.40,"niveau":151.0},{"an":2012.47,"niveau":148.0},{"an":2012.56,"niveau":145.8},{"an":2012.64,"niveau":141.6},{"an":2012.76,"niveau":140.4},{"an":2012.79,"niveau":148.0},{"an":2012.85,"niveau":149.6},{"an":2012.92,"niveau":150.2},{"an":2012.96,"niveau":152.6},{"an":2012.99,"niveau":158.3},
{"an":2013.05,"niveau":158.4},{"an":2013.10,"niveau":159.2},{"an":2013.16,"niveau":158.1},{"an":2013.22,"niveau":157.7},{"an":2013.28,"niveau":158.3},{"an":2013.37,"niveau":157.0},{"an":2013.45,"niveau":155.7},{"an":2013.54,"niveau":152.6},{"an":2013.63,"niveau":148.0},{"an":2013.70,"niveau":143.8},{"an":2013.74,"niveau":143.2},{"an":2013.80,"niveau":148.0},{"an":2013.83,"niveau":153.3},{"an":2013.87,"niveau":158.8},{"an":2013.93,"niveau":158.1},
{"an":2014.01,"niveau":155.6},{"an":2014.06,"niveau":155.2},{"an":2014.12,"niveau":158.4},{"an":2014.18,"niveau":158.1},{"an":2014.27,"niveau":156.1},{"an":2014.35,"niveau":152.6},{"an":2014.41,"niveau":150.2},{"an":2014.50,"niveau":148.0},{"an":2014.56,"niveau":147.6},{"an":2014.60,"niveau":148.0},{"an":2014.64,"niveau":151.9},{"an":2014.68,"niveau":151.5},{"an":2014.73,"niveau":148.7},{"an":2014.77,"niveau":146.6},{"an":2014.81,"niveau":149.4},{"an":2014.87,"niveau":150.0},{"an":2014.93,"niveau":153.5},
{"an":2015.02,"niveau":155.7},{"an":2015.09,"niveau":158.4},{"an":2015.16,"niveau":157.5},{"an":2015.25,"niveau":155.0},{"an":2015.34,"niveau":152.4},{"an":2015.40,"niveau":153.9},{"an":2015.48,"niveau":150.4},{"an":2015.57,"niveau":146.6},{"an":2015.66,"niveau":142.3},{"an":2015.77,"niveau":141.0},{"an":2015.89,"niveau":139.7},{"an":2015.97,"niveau":138.8},
{"an":2016.03,"niveau":145.6},{"an":2016.12,"niveau":157.9},{"an":2016.17,"niveau":158.8},{"an":2016.29,"niveau":156.1},{"an":2016.40,"niveau":152.8},{"an":2016.43,"niveau":159.3},{"an":2016.49,"niveau":157.9},{"an":2016.61,"niveau":154.4},{"an":2016.69,"niveau":149.4},{"an":2016.78,"niveau":143.2},{"an":2016.86,"niveau":142.0},{"an":2016.93,"niveau":146.7},{"an":2016.99,"niveau":146.6},
{"an":2017.02,"niveau":144.1},{"an":2017.08,"niveau":145.4},{"an":2017.14,"niveau":147.3},{"an":2017.18,"niveau":152.2},{"an":2017.22,"niveau":155.1},{"an":2017.28,"niveau":153.9},{"an":2017.36,"niveau":149.1},{"an":2017.43,"niveau":148.5},{"an":2017.51,"niveau":145.6},{"an":2017.59,"niveau":142.3},{"an":2017.63,"niveau":142.2},{"an":2017.72,"niveau":140.8},{"an":2017.77,"niveau":141.3},{"an":2017.89,"niveau":140.8},{"an":2017.94,"niveau":143.4},{"an":2017.98,"niveau":149.8},
{"an":2018.03,"niveau":157.5},{"an":2018.07,"niveau":159.2},{"an":2018.12,"niveau":158.6},{"an":2018.14,"niveau":159.3},{"an":2018.18,"niveau":158.1},{"an":2018.23,"niveau":158.4},{"an":2018.30,"niveau":157.7},{"an":2018.39,"niveau":155.4},{"an":2018.48,"niveau":153.0},{"an":2018.57,"niveau":149.4},{"an":2018.66,"niveau":143.8},{"an":2018.77,"niveau":141.2},{"an":2018.86,"niveau":140.4},{"an":2018.92,"niveau":139.8},{"an":2018.96,"niveau":143.1},{"an":2018.99,"niveau":145.2},
{"an":2019.03,"niveau":144.5},{"an":2019.07,"niveau":143.1},{"an":2019.10,"niveau":148.2},{"an":2019.13,"niveau":148.4},{"an":2019.22,"niveau":145.8},{"an":2019.31,"niveau":143.8},{"an":2019.43,"niveau":141.4},{"an":2019.54,"niveau":139.8},{"an":2019.66,"niveau":138.5},{"an":2019.75,"niveau":138.0},{"an":2019.84,"niveau":138.0},{"an":2019.89,"niveau":138.6},{"an":2019.94,"niveau":141.6},{"an":2019.96,"niveau":148.0},{"an":2019.99,"niveau":153.3},
{"an":2020.03,"niveau":153.5},{"an":2020.10,"niveau":151.9},{"an":2020.13,"niveau":153.9},{"an":2020.17,"niveau":153.0},{"an":2020.21,"niveau":155.2},{"an":2020.27,"niveau":154.4},{"an":2020.36,"niveau":149.8},{"an":2020.45,"niveau":145.8},{"an":2020.60,"niveau":141.3},{"an":2020.71,"niveau":139.7},{"an":2020.78,"niveau":139.1},{"an":2020.83,"niveau":142.2},{"an":2020.88,"niveau":141.6},{"an":2020.93,"niveau":141.0},{"an":2020.97,"niveau":148.7},
{"an":2021.06,"niveau":150.2},{"an":2021.09,"niveau":156.1},{"an":2021.13,"niveau":157.9},{"an":2021.21,"niveau":156.3},{"an":2021.27,"niveau":154.0},{"an":2021.35,"niveau":149.1},{"an":2021.42,"niveau":147.1},{"an":2021.46,"niveau":145.8},{"an":2021.49,"niveau":145.6},{"an":2021.54,"niveau":148.2},{"an":2021.59,"niveau":147.3},{"an":2021.68,"niveau":144.6},{"an":2021.74,"niveau":151.2},{"an":2021.80,"niveau":149.8},{"an":2021.86,"niveau":146.9},{"an":2021.92,"niveau":145.6},{"an":2021.96,"niveau":151.9},
{"an":2022.03,"niveau":156.8},{"an":2022.09,"niveau":155.7},{"an":2022.18,"niveau":153.3},{"an":2022.24,"niveau":150.8},{"an":2022.32,"niveau":148.7},{"an":2022.38,"niveau":146.6},{"an":2022.46,"niveau":143.1},{"an":2022.53,"niveau":143.8},{"an":2022.62,"niveau":141.3},{"an":2022.71,"niveau":140.3},{"an":2022.78,"niveau":139.6},{"an":2022.81,"niveau":141.3},{"an":2022.87,"niveau":141.3},{"an":2022.91,"niveau":142.3},{"an":2022.95,"niveau":144.3},
{"an":2023.00,"niveau":148.2},{"an":2023.05,"niveau":151.2},{"an":2023.09,"niveau":152.4},{"an":2023.13,"niveau":150.8},{"an":2023.18,"niveau":147.6},{"an":2023.22,"niveau":146.7},{"an":2023.29,"niveau":147.5},{"an":2023.35,"niveau":146.2},{"an":2023.41,"niveau":144.9},{"an":2023.46,"niveau":143.2},{"an":2023.48,"niveau":149.6},{"an":2023.53,"niveau":148.4},{"an":2023.58,"niveau":144.9},{"an":2023.63,"niveau":143.1},{"an":2023.70,"niveau":141.3},{"an":2023.76,"niveau":140.8},{"an":2023.82,"niveau":140.3},{"an":2023.85,"niveau":145.6},{"an":2023.88,"niveau":152.2},{"an":2023.91,"niveau":153.6},{"an":2023.92,"niveau":153.3}
]
},
"layer":[
 {"data":{"name":"ct"},"mark":{"type":"rect"},
  "encoding":{
   "x":{"field":"an","type":"quantitative","scale":{"domain":[2008,2026],"nice":false,"zero":false}},
   "x2":{"field":"fin"},
   "y":{"datum":0,"type":"quantitative","scale":{"domain":[0,100],"nice":false,"zero":false},"axis":null},
   "y2":{"datum":90},
   "fill":{"field":"nom","type":"nominal","scale":{"domain":["CT n°1","CT n°2","CT n°3","CT n°4"],"range":["#FFE699","#9DC3E6","#9BCAAA","#FFFF99"]},"legend":null}}},
 {"data":{"name":"bords"},"mark":{"type":"rule","strokeWidth":2},
  "encoding":{
   "x":{"field":"an","type":"quantitative","scale":{"domain":[2008,2026],"nice":false,"zero":false}},
   "y":{"datum":0,"type":"quantitative","scale":{"domain":[0,100],"nice":false,"zero":false},"axis":null},
   "y2":{"datum":90},
   "stroke":{"field":"nom","type":"nominal","scale":{"domain":["CT n°1","CT n°2","CT n°4"],"range":["#FFC000","#2E75B6","#FFC000"]},"legend":null}}},
 {"data":{"name":"g5"},"mark":{"type":"rule","color":"#EFEFEF","strokeWidth":1.5},
  "encoding":{"y":{"field":"v","type":"quantitative","scale":{"domain":[0,100],"nice":false,"zero":false},"axis":null}}},
 {"data":{"name":"g10"},"mark":{"type":"rule","color":"#D9D9D9","strokeWidth":1.5},
  "encoding":{"y":{"field":"v","type":"quantitative","scale":{"domain":[0,100],"nice":false,"zero":false},"axis":null}}},
 {"data":{"name":"gx"},"mark":{"type":"rule","color":"#D9D9D9","strokeWidth":1.5},
  "encoding":{"x":{"field":"an","type":"quantitative","scale":{"domain":[2008,2026],"nice":false,"zero":false}}}},
 {"data":{"name":"nitrate"},"mark":{"type":"line","strokeWidth":3},
  "encoding":{
   "x":{"field":"an","type":"quantitative","scale":{"domain":[2008,2026],"nice":false,"zero":false},
        "axis":{"values":[2008,2009,2010,2011,2012,2013,2014,2015,2016,2017,2018,2019,2020,2021,2022,2023,2024,2025,2026],"labelExpr":"'janv-' + slice(toString(datum.value), 2)","labelAngle":270,"ticks":false,"labelPadding":19,"labelFontSize":20,"title":null,"labelOverlap":false,"labelFlush":false}},
   "y":{"field":"no3","type":"quantitative","scale":{"domain":[0,100],"nice":false,"zero":false},
        "axis":{"orient":"left","values":[0,10,20,30,40,50,60,70,80,90,100],"title":"[NO3] (mg/L)","titleAngle":270,"titleX":-116,"titleY":430,"titleBaseline":"middle","titleAlign":"center","tickSize":8,"labelPadding":16}},
   "color":{"field":"serie","type":"nominal",
     "scale":{"domain":["Porche 1","Porche 2","Porche 3","Porche 4","Limite de qualité","Côte piezo (mNGF)"],"range":["#1F4E79","#4BACC6","#77933C","#C00000","#ED7D31","#9E480E"]},
     "legend":{"orient":"none","legendX":25,"legendY":17,"direction":"horizontal","title":" ","titleOrient":"left","titlePadding":33,"titleFontSize":8,
       "symbolType":"M-1,-0.065L1,-0.065L1,0.065L-1,0.065ZM0,-0.15L0.15,0L0,0.15L-0.15,0Z",
       "symbolSize":2400,"symbolStrokeWidth":0,"symbolOpacity":1,"clipHeight":26,"labelFont":"Lato","labelFontSize":23,"labelColor":"#595959","labelOffset":6,"labelLimit":400,"columnPadding":44,"padding":8,
       "strokeColor":"#A6A6A6","fillColor":"#FFFFFF"}}}},
 {"data":{"name":"nitrate"},"mark":{"type":"point","shape":"diamond","filled":true,"size":40,"opacity":1},
  "encoding":{
   "x":{"field":"an","type":"quantitative","scale":{"domain":[2008,2026],"nice":false,"zero":false}},
   "y":{"field":"no3","type":"quantitative","scale":{"domain":[0,100],"nice":false,"zero":false},"axis":null},
   "color":{"field":"serie","type":"nominal","scale":{"domain":["Porche 1","Porche 2","Porche 3","Porche 4","Limite de qualité","Côte piezo (mNGF)"],"range":["#1F4E79","#4BACC6","#77933C","#C00000","#ED7D31","#9E480E"]},
     "legend":{"orient":"none","legendX":25,"legendY":17,"direction":"horizontal","title":" ","titleOrient":"left","titlePadding":33,"titleFontSize":8,
       "symbolType":"M-1,-0.065L1,-0.065L1,0.065L-1,0.065ZM0,-0.15L0.15,0L0,0.15L-0.15,0Z",
       "symbolSize":2400,"symbolStrokeWidth":0,"symbolOpacity":1,"clipHeight":26,"labelFont":"Lato","labelFontSize":23,"labelColor":"#595959","labelOffset":6,"labelLimit":400,"columnPadding":44,"padding":8,
       "strokeColor":"#A6A6A6","fillColor":"#FFFFFF"}}}},
 {"data":{"name":"limite"},"mark":{"type":"line","color":"#ED7D31","strokeWidth":2.5,"strokeDash":[9,5]},
  "encoding":{
   "x":{"field":"an","type":"quantitative","scale":{"domain":[2008,2026],"nice":false,"zero":false}},
   "y":{"field":"no3","type":"quantitative","scale":{"domain":[0,100],"nice":false,"zero":false},"axis":null}}},
 {"data":{"name":"piezo"},"mark":{"type":"line","color":"#9E480E","strokeWidth":2.2},
  "encoding":{
   "x":{"field":"an","type":"quantitative","scale":{"domain":[2008,2026],"nice":false,"zero":false}},
   "y":{"field":"niveau","type":"quantitative","scale":{"domain":[130,220],"nice":false,"zero":false},
        "axis":{"orient":"right","values":[130,140,150,160,170,180,190,200,210,220],"title":"Niveau piézométrique (m NGF)","titleFontSize":24,"titleAngle":270,"titleX":121,"titleY":439,"titleBaseline":"middle","titleAlign":"center","tickSize":8,"labelPadding":17}}}},
 {"data":{"name":"ct"},"mark":{"type":"text","font":"DejaVu Sans","fontWeight":"bold","fontSize":25,"color":"#000000","opacity":0.22,"dx":2,"dy":3},
  "encoding":{
   "x":{"field":"mil","type":"quantitative","scale":{"domain":[2008,2026],"nice":false,"zero":false}},
   "y":{"datum":5,"type":"quantitative","scale":{"domain":[0,100],"nice":false,"zero":false},"axis":null},
   "text":{"field":"nom"}}},
 {"data":{"name":"ct"},"mark":{"type":"text","font":"DejaVu Sans","fontWeight":"bold","fontSize":25,"color":"#404040"},
  "encoding":{
   "x":{"field":"mil","type":"quantitative","scale":{"domain":[2008,2026],"nice":false,"zero":false}},
   "y":{"datum":5,"type":"quantitative","scale":{"domain":[0,100],"nice":false,"zero":false},"axis":null},
   "text":{"field":"nom"}}},
 {"data":{"name":"fleche_plein"},"mark":{"type":"line","color":"#000000","strokeWidth":2},
  "encoding":{
   "x":{"field":"an","type":"quantitative","scale":{"domain":[2008,2026],"nice":false,"zero":false}},
   "y":{"field":"no3","type":"quantitative","scale":{"domain":[0,100],"nice":false,"zero":false},"axis":null}}},
 {"data":{"name":"fleche_tiret"},"mark":{"type":"line","color":"#000000","strokeWidth":2,"strokeDash":[8,5]},
  "encoding":{
   "x":{"field":"an","type":"quantitative","scale":{"domain":[2008,2026],"nice":false,"zero":false}},
   "y":{"field":"no3","type":"quantitative","scale":{"domain":[0,100],"nice":false,"zero":false},"axis":null}}},
 {"data":{"name":"fleche_pointe"},"mark":{"type":"point","shape":"triangle-right","filled":true,"color":"#000000","size":110,"opacity":1},
  "encoding":{
   "x":{"field":"an","type":"quantitative","scale":{"domain":[2008,2026],"nice":false,"zero":false}},
   "y":{"field":"no3","type":"quantitative","scale":{"domain":[0,100],"nice":false,"zero":false},"axis":null}}}
],
"resolve":{"scale":{"y":"independent"}}
}
